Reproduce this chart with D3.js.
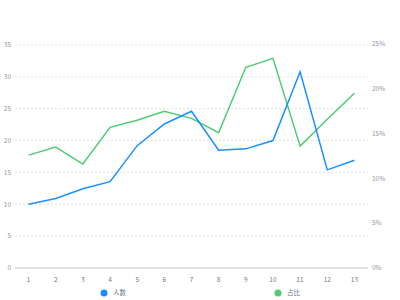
<!DOCTYPE html>
<html>
<head>
<meta charset="utf-8">
<script src="https://d3js.org/d3.v7.min.js"></script>
<style>
  body { margin: 0; background: #fff; }
  text { font-family: "Noto Sans CJK SC", "Noto Sans", sans-serif; }
  .grid line { stroke: #e3e3e3; stroke-dasharray: 2,2; }
</style>
</head>
<body>
<div id="chart"></div>
<script>
  const categories = ["1","2","3","4","5","6","7","8","9","10","11","12","13"];
  const people = [10.0, 10.9, 12.45, 13.55, 19.2, 22.6, 24.6, 18.5, 18.7, 20.0, 30.8, 15.4, 16.9];
  const ratio = [12.6, 13.5, 11.6, 15.7, 16.5, 17.5, 16.7, 15.1, 22.4, 23.4, 13.6, 16.6, 19.5];
  const leftTicks = [0, 5, 10, 15, 20, 25, 30, 35];
  const rightTicks = [0, 5, 10, 15, 20, 25];

  const width = 400, height = 300;
  const plotLeft = 15, plotRight = 368, plotTop = 45, plotBottom = 268;
  const blue = "#1890ff", green = "#4ecb73";

  const svg = d3.select("#chart").append("svg")
    .attr("width", width).attr("height", height);

  const x = d3.scaleBand().domain(categories).range([plotLeft, plotRight]);
  const y = d3.scaleLinear().domain([0, 35]).range([plotBottom, plotTop]);
  const y2 = d3.scaleLinear().domain([0, 25]).range([plotBottom, 44]);

  // grid
  svg.append("g").attr("class", "grid")
    .selectAll("line").data(leftTicks.slice(1)).enter().append("line")
    .attr("x1", plotLeft).attr("x2", plotRight)
    .attr("y1", d => y(d)).attr("y2", d => y(d));

  svg.append("line")
    .attr("x1", plotLeft).attr("x2", plotRight)
    .attr("y1", plotBottom).attr("y2", plotBottom)
    .attr("stroke", "#bcc3cc").attr("stroke-width", 1);

  // left labels
  svg.append("g").selectAll("text").data(leftTicks).enter().append("text")
    .attr("x", 11).attr("y", d => y(d)).attr("dy", "0.35em")
    .attr("text-anchor", "end").attr("font-size", 6.5).attr("fill", "#8c96a3")
    .text(d => d);

  // right labels
  svg.append("g").selectAll("text").data(rightTicks).enter().append("text")
    .attr("x", 372).attr("y", d => y2(d)).attr("dy", "0.35em")
    .attr("font-size", 6.5).attr("fill", "#8c96a3")
    .text(d => d + "%");

  // x labels
  svg.append("g").selectAll("text").data(categories).enter().append("text")
    .attr("x", d => x(d) + x.bandwidth() / 2).attr("y", 280).attr("dy", "0.35em")
    .attr("text-anchor", "middle").attr("font-size", 6.5).attr("fill", "#6e7a88")
    .text(d => d);

  const cx = (d, i) => x(categories[i]) + x.bandwidth() / 2;

  svg.append("path").datum(ratio)
    .attr("fill", "none").attr("stroke", green).attr("stroke-width", 1.5)
    .attr("d", d3.line().x(cx).y(d => y2(d)));

  svg.append("path").datum(people)
    .attr("fill", "none").attr("stroke", blue).attr("stroke-width", 1.5)
    .attr("d", d3.line().x(cx).y(d => y(d)));

  // legend
  const legend = [{name: "人数", color: blue, x: 104}, {name: "占比", color: green, x: 278}];
  const lg = svg.append("g").selectAll("g").data(legend).enter().append("g");
  lg.append("circle").attr("cx", d => d.x).attr("cy", 293).attr("r", 3.5).attr("fill", d => d.color);
  lg.append("text").attr("x", d => d.x + 9).attr("y", 293).attr("dy", "0.35em")
    .attr("font-size", 6.5).attr("fill", "#6e7a88").text(d => d.name);
</script>
</body>
</html>
